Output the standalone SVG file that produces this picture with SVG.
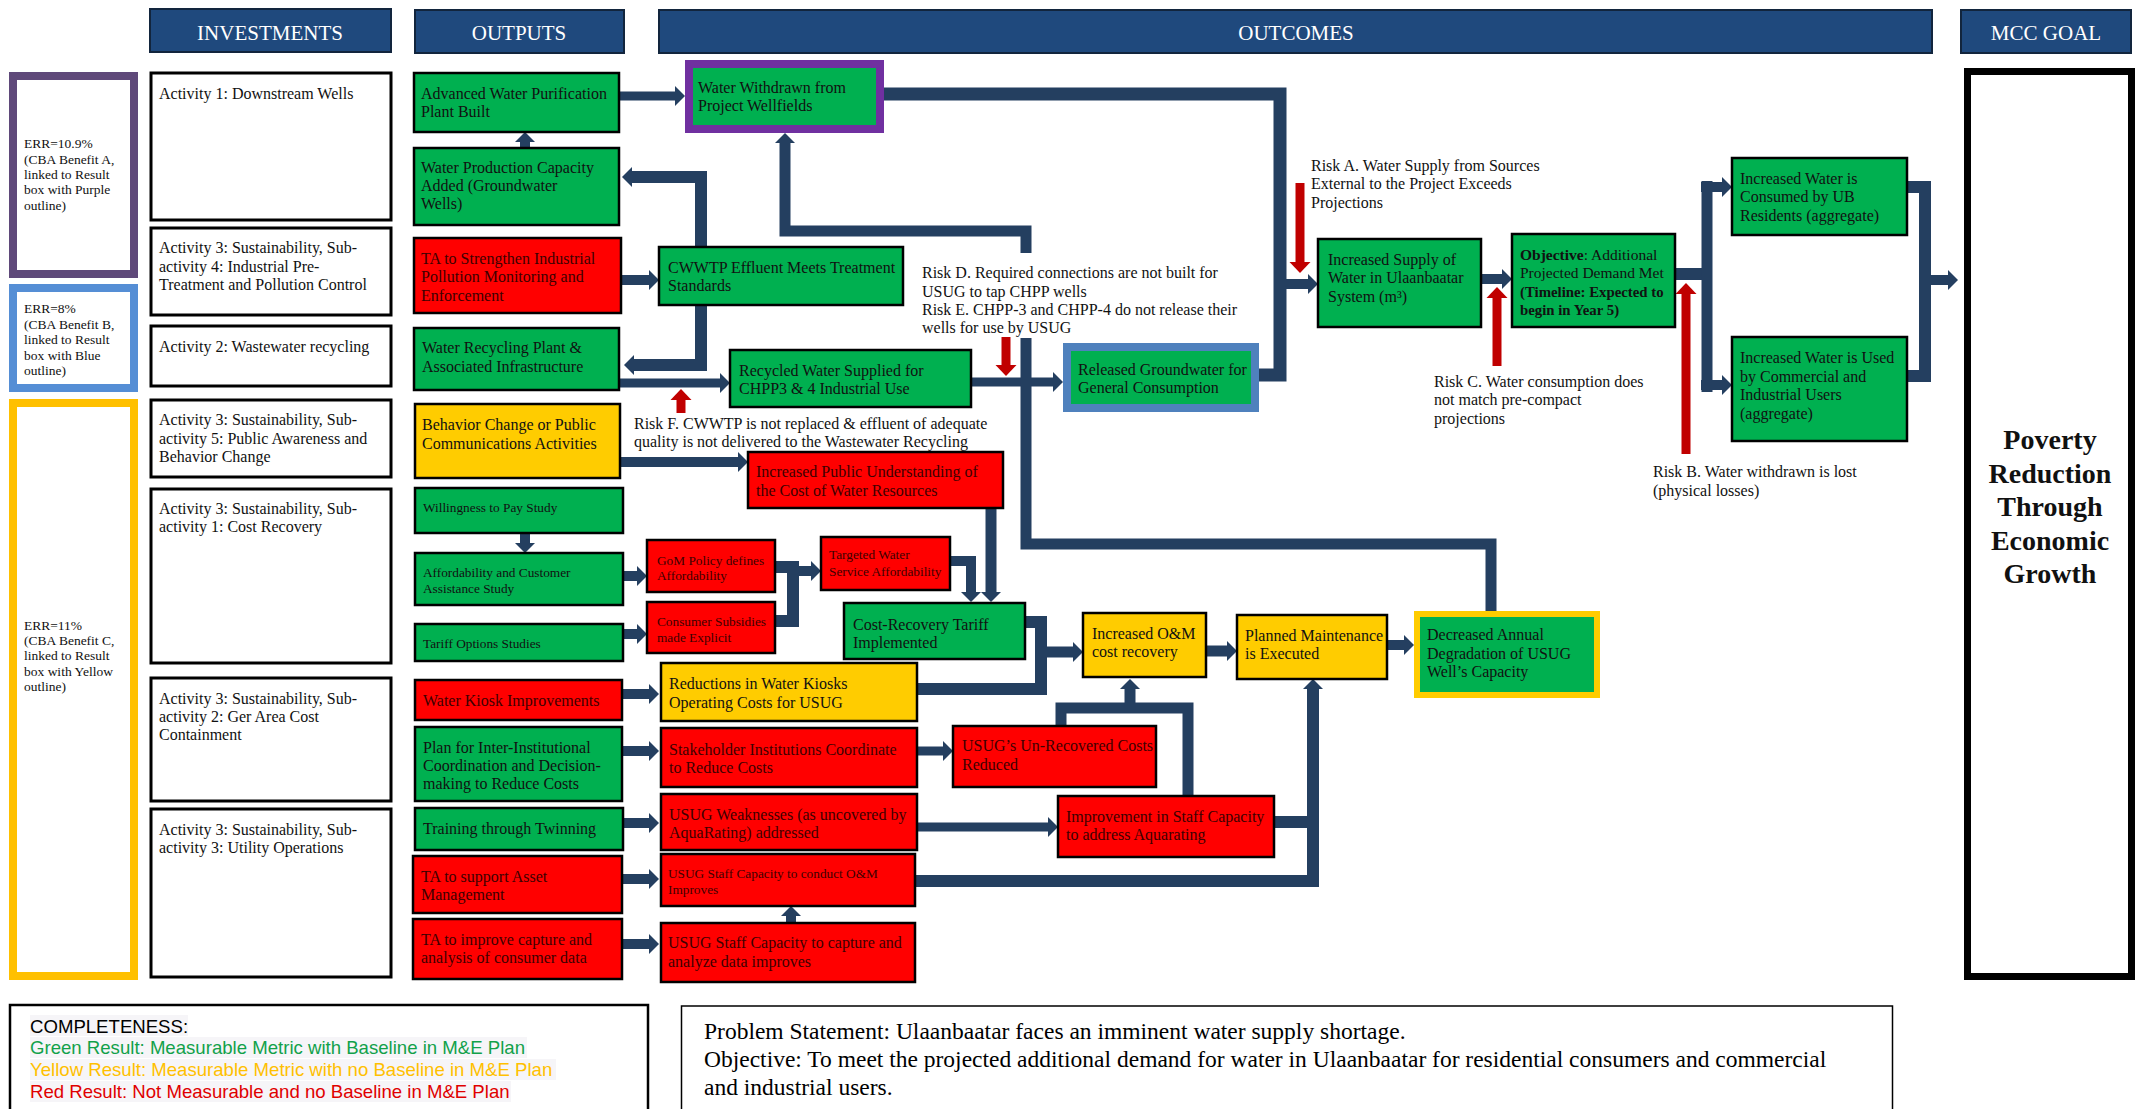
<svg xmlns="http://www.w3.org/2000/svg" width="2149" height="1109" viewBox="0 0 2149 1109">
<style>
text{font-family:"Liberation Serif","Times New Roman",serif;font-size:16px;fill:#111}
.ht{fill:#fff;font-size:21px;text-anchor:middle}
.hdr{fill:#1F497D;stroke:#12253d;stroke-width:2}
.act{fill:#fff;stroke:#000;stroke-width:3}
.g{fill:#00B050;stroke:#000;stroke-width:2.5}
.r{fill:#FF0000;stroke:#000;stroke-width:2.5}
.y{fill:#FFCC00;stroke:#000;stroke-width:2.5}
.tr{fill:#3d0000}
.sm{font-size:13.3px}
.err{font-size:13.5px}
.c{fill:none;stroke:#243F60;stroke-width:11;stroke-linejoin:miter}
.rk{fill:none;stroke:#C00000;stroke-width:9}
.lg{font-family:"Liberation Sans",Arial,sans-serif;font-size:18.6px}
.b{font-weight:bold}
</style>
<defs>
<marker id="a" markerUnits="userSpaceOnUse" markerWidth="10" markerHeight="20" refX="0" refY="10" orient="auto" overflow="visible"><path d="M0,0 L10,10 L0,20 z" fill="#243F60"/></marker>
<marker id="ar" markerUnits="userSpaceOnUse" markerWidth="11" markerHeight="21" refX="0" refY="10.5" orient="auto" overflow="visible"><path d="M0,0 L11,10.5 L0,21 z" fill="#C00000"/></marker>
</defs>
<rect width="2149" height="1109" fill="#fff"/>

<!-- headers -->
<g id="hdr-investments"><rect class="hdr" x="150" y="9" width="241" height="43"/><text class="ht" x="270" y="40">INVESTMENTS</text></g>
<g id="hdr-outputs"><rect class="hdr" x="415" y="10" width="209" height="43"/><text class="ht" x="519" y="40">OUTPUTS</text></g>
<g id="hdr-outcomes"><rect class="hdr" x="659" y="10" width="1273" height="43"/><text class="ht" x="1296" y="40">OUTCOMES</text></g>
<g id="hdr-goal"><rect class="hdr" x="1961" y="10" width="170" height="43"/><text class="ht" x="2046" y="40">MCC GOAL</text></g>

<!-- ERR boxes -->
<g id="err-a"><rect x="13" y="76" width="121" height="198" fill="#fff" stroke="#5F497A" stroke-width="8"/>
<text class="err"><tspan x="24" y="148">ERR=10.9%</tspan><tspan x="24" y="164">(CBA Benefit A,</tspan><tspan x="24" y="179">linked to Result</tspan><tspan x="24" y="194">box with Purple</tspan><tspan x="24" y="210">outline)</tspan></text></g>
<g id="err-b"><rect x="13" y="288" width="121" height="100" fill="#fff" stroke="#558ED5" stroke-width="8"/>
<text class="err"><tspan x="24" y="313">ERR=8%</tspan><tspan x="24" y="328.5">(CBA Benefit B,</tspan><tspan x="24" y="344">linked to Result</tspan><tspan x="24" y="359.5">box with Blue</tspan><tspan x="24" y="375">outline)</tspan></text></g>
<g id="err-c"><rect x="13" y="403" width="121" height="573" fill="#fff" stroke="#FFC000" stroke-width="8"/>
<text class="err"><tspan x="24" y="630">ERR=11%</tspan><tspan x="24" y="645">(CBA Benefit C,</tspan><tspan x="24" y="660">linked to Result</tspan><tspan x="24" y="676">box with Yellow</tspan><tspan x="24" y="691">outline)</tspan></text></g>

<!-- activities -->
<g id="act1"><rect class="act" x="151" y="73" width="240" height="147"/><text x="159" y="99">Activity 1: Downstream Wells</text></g>
<g id="act3-4"><rect class="act" x="151" y="228" width="240" height="87"/><text><tspan x="159" y="253">Activity 3: Sustainability, Sub-</tspan><tspan x="159" y="272">activity 4: Industrial Pre-</tspan><tspan x="159" y="290">Treatment and Pollution Control</tspan></text></g>
<g id="act2"><rect class="act" x="151" y="326" width="240" height="60"/><text x="159" y="352">Activity 2: Wastewater recycling</text></g>
<g id="act3-5"><rect class="act" x="151" y="400" width="240" height="77"/><text><tspan x="159" y="425">Activity 3: Sustainability, Sub-</tspan><tspan x="159" y="444">activity 5: Public Awareness and</tspan><tspan x="159" y="462">Behavior Change</tspan></text></g>
<g id="act3-1"><rect class="act" x="151" y="489" width="240" height="174"/><text><tspan x="159" y="514">Activity 3: Sustainability, Sub-</tspan><tspan x="159" y="532">activity 1: Cost Recovery</tspan></text></g>
<g id="act3-2"><rect class="act" x="151" y="678" width="240" height="123"/><text><tspan x="159" y="704">Activity 3: Sustainability, Sub-</tspan><tspan x="159" y="722">activity 2: Ger Area Cost</tspan><tspan x="159" y="740">Containment</tspan></text></g>
<g id="act3-3"><rect class="act" x="151" y="809" width="240" height="168"/><text><tspan x="159" y="835">Activity 3: Sustainability, Sub-</tspan><tspan x="159" y="853">activity 3: Utility Operations</tspan></text></g>

<!-- connectors -->
<g id="connectors">
<path class="c" style="stroke-width:9" d="M619 96H675" marker-end="url(#a)"/>
<path class="c" style="stroke-width:12" d="M701 247V177H632" marker-end="url(#a)"/>
<path class="c" style="stroke-width:12" d="M701 305V365H634" marker-end="url(#a)"/>
<path class="c" style="stroke-width:10" d="M621 280H649" marker-end="url(#a)"/>
<path class="c" style="stroke-width:9" d="M619 383H720" marker-end="url(#a)"/>
<path class="c" style="stroke-width:9" d="M971 382H1053" marker-end="url(#a)"/>
<path class="c" d="M1491 611V544H1026V338"/>
<path class="c" d="M1026 253V231H785V143" marker-end="url(#a)"/>
<path class="c" style="stroke-width:13" d="M884 94H1280V375H1259"/>
<path class="c" style="stroke-width:10" d="M1280 284H1308" marker-end="url(#a)"/>
<path class="c" style="stroke-width:10" d="M1481 279H1502" marker-end="url(#a)"/>
<path class="c" style="stroke-width:12" d="M1675 274H1707"/>
<path class="c" d="M1707 181V392"/>
<path class="c" style="stroke-width:10" d="M1701 187H1722" marker-end="url(#a)"/>
<path class="c" style="stroke-width:10" d="M1701 385H1722" marker-end="url(#a)"/>
<path class="c" style="stroke-width:12" d="M1907 187H1925V376H1907"/>
<path class="c" style="stroke-width:10" d="M1925 280H1948" marker-end="url(#a)"/>
<path class="c" style="stroke-width:10" d="M620 462H738" marker-end="url(#a)"/>
<path class="c" style="stroke-width:10" d="M623 576H637" marker-end="url(#a)"/>
<path class="c" style="stroke-width:10" d="M623 634H637" marker-end="url(#a)"/>
<path class="c" style="stroke-width:10" d="M525 533V543" marker-end="url(#a)"/>
<path class="c" style="stroke-width:10" d="M525 148V142" marker-end="url(#a)"/>
<path class="c" style="stroke-width:12" d="M775 567H793V621H775"/>
<path class="c" style="stroke-width:10" d="M793 571H811" marker-end="url(#a)"/>
<path class="c" style="stroke-width:10" d="M950 561H971V592" marker-end="url(#a)"/>
<path class="c" d="M991 508V592" marker-end="url(#a)"/>
<path class="c" style="stroke-width:12" d="M1025 622H1041V689H917"/>
<path class="c" d="M1041 652H1073" marker-end="url(#a)"/>
<path class="c" d="M1206 651H1227" marker-end="url(#a)"/>
<path class="c" style="stroke-width:10" d="M1387 645H1404" marker-end="url(#a)"/>
<path class="c" d="M1061 726V708H1188V796"/>
<path class="c" d="M1130 708V689" marker-end="url(#a)"/>
<path class="c" style="stroke-width:12" d="M915 881H1313V689" marker-end="url(#a)"/>
<path class="c" style="stroke-width:12" d="M1274 822H1313"/>
<path class="c" style="stroke-width:9" d="M917 751H943" marker-end="url(#a)"/>
<path class="c" style="stroke-width:9" d="M917 827H1048" marker-end="url(#a)"/>
<path class="c" style="stroke-width:10" d="M791 923V916" marker-end="url(#a)"/>
<path class="c" style="stroke-width:10" d="M622 694H649" marker-end="url(#a)"/>
<path class="c" style="stroke-width:10" d="M622 751H649" marker-end="url(#a)"/>
<path class="c" style="stroke-width:10" d="M623 823H649" marker-end="url(#a)"/>
<path class="c" style="stroke-width:10" d="M622 879H649" marker-end="url(#a)"/>
<path class="c" style="stroke-width:10" d="M622 944H649" marker-end="url(#a)"/>
<!-- risk arrows -->
<path class="rk" d="M1300 183V262" marker-end="url(#ar)"/>
<path class="rk" d="M1006 337V365" marker-end="url(#ar)"/>
<path class="rk" d="M681 413V400" marker-end="url(#ar)"/>
<path class="rk" d="M1497 366V298" marker-end="url(#ar)"/>
<path class="rk" d="M1686 454V294" marker-end="url(#ar)"/>
</g>

<!-- outputs -->
<g id="o-advanced"><rect class="g" x="414" y="73" width="205" height="59"/><text><tspan x="421" y="99">Advanced Water Purification</tspan><tspan x="421" y="117">Plant Built</tspan></text></g>
<g id="o-waterprod"><rect class="g" x="414" y="148" width="205" height="77"/><text><tspan x="421" y="173">Water Production Capacity</tspan><tspan x="421" y="191">Added (Groundwater</tspan><tspan x="421" y="209">Wells)</tspan></text></g>
<g id="o-ta-strengthen"><rect class="r" x="414" y="238" width="207" height="75"/><text class="tr"><tspan x="421" y="264">TA to Strengthen Industrial</tspan><tspan x="421" y="282">Pollution Monitoring and</tspan><tspan x="421" y="301">Enforcement</tspan></text></g>
<g id="o-recycling"><rect class="g" x="414" y="328" width="205" height="62"/><text><tspan x="422" y="353">Water Recycling Plant &amp;</tspan><tspan x="422" y="372">Associated Infrastructure</tspan></text></g>
<g id="o-behavior"><rect class="y" x="415" y="404" width="205" height="74"/><text><tspan x="422" y="430">Behavior Change or Public</tspan><tspan x="422" y="449">Communications Activities</tspan></text></g>
<g id="o-wtp"><rect class="g" x="415" y="488" width="208" height="45"/><text class="sm" x="423" y="512">Willingness to Pay Study</text></g>
<g id="o-afford"><rect class="g" x="415" y="553" width="208" height="52"/><text class="sm"><tspan x="423" y="577">Affordability and Customer</tspan><tspan x="423" y="593">Assistance Study</tspan></text></g>
<g id="o-tariff"><rect class="g" x="415" y="624" width="208" height="37"/><text class="sm" x="423" y="648">Tariff Options Studies</text></g>
<g id="o-kiosk"><rect class="r" x="415" y="680" width="207" height="40"/><text class="tr" x="423" y="706">Water Kiosk Improvements</text></g>
<g id="o-plan"><rect class="g" x="415" y="727" width="207" height="74"/><text><tspan x="423" y="753">Plan for Inter-Institutional</tspan><tspan x="423" y="771">Coordination and Decision-</tspan><tspan x="423" y="789">making to Reduce Costs</tspan></text></g>
<g id="o-training"><rect class="g" x="415" y="808" width="208" height="42"/><text x="423" y="834">Training through Twinning</text></g>
<g id="o-ta-asset"><rect class="r" x="413" y="856" width="209" height="57"/><text class="tr"><tspan x="421" y="882">TA to support Asset</tspan><tspan x="421" y="900">Management</tspan></text></g>
<g id="o-ta-data"><rect class="r" x="413" y="919" width="209" height="60"/><text class="tr"><tspan x="421" y="945">TA to improve capture and</tspan><tspan x="421" y="963">analysis of consumer data</tspan></text></g>

<!-- outcomes -->
<g id="m-withdrawn"><rect x="689" y="64" width="191" height="65" fill="#00B050" stroke="#7030A0" stroke-width="8"/><text><tspan x="698" y="93">Water Withdrawn from</tspan><tspan x="698" y="111">Project Wellfields</tspan></text></g>
<g id="m-cwwtp"><rect class="g" x="659" y="247" width="244" height="58"/><text><tspan x="668" y="273">CWWTP Effluent Meets Treatment</tspan><tspan x="668" y="291">Standards</tspan></text></g>
<g id="m-recycled"><rect class="g" x="730" y="350" width="241" height="57"/><text><tspan x="739" y="376">Recycled Water Supplied for</tspan><tspan x="739" y="394">CHPP3 &amp; 4 Industrial Use</tspan></text></g>
<g id="m-released"><rect x="1067" y="347" width="188" height="61" fill="#00B050" stroke="#4F81BD" stroke-width="8"/><text><tspan x="1078" y="375">Released Groundwater for</tspan><tspan x="1078" y="393">General Consumption</tspan></text></g>
<g id="m-public"><rect class="r" x="748" y="452" width="255" height="56"/><text class="tr"><tspan x="756" y="477">Increased Public Understanding of</tspan><tspan x="756" y="496">the Cost of Water Resources</tspan></text></g>
<g id="m-gom"><rect class="r" x="647" y="540" width="128" height="52"/><text class="tr sm"><tspan x="657" y="565">GoM Policy defines</tspan><tspan x="657" y="580">Affordability</tspan></text></g>
<g id="m-subsidies"><rect class="r" x="647" y="602" width="128" height="51"/><text class="tr sm"><tspan x="657" y="626">Consumer Subsidies</tspan><tspan x="657" y="642">made Explicit</tspan></text></g>
<g id="m-targeted"><rect class="r" x="821" y="537" width="129" height="53"/><text class="tr sm"><tspan x="829" y="559">Targeted Water</tspan><tspan x="829" y="576">Service Affordability</tspan></text></g>
<g id="m-tariff"><rect class="g" x="844" y="603" width="181" height="56"/><text><tspan x="853" y="630">Cost-Recovery Tariff</tspan><tspan x="853" y="648">Implemented</tspan></text></g>
<g id="m-kiosks"><rect class="y" x="661" y="663" width="256" height="58"/><text><tspan x="669" y="689">Reductions in Water Kiosks</tspan><tspan x="669" y="708">Operating Costs for USUG</tspan></text></g>
<g id="m-stakeholder"><rect class="r" x="661" y="728" width="256" height="59"/><text class="tr"><tspan x="669" y="755">Stakeholder Institutions Coordinate</tspan><tspan x="669" y="773">to Reduce Costs</tspan></text></g>
<g id="m-weak"><rect class="r" x="661" y="794" width="256" height="56"/><text class="tr"><tspan x="669" y="820">USUG Weaknesses (as uncovered by</tspan><tspan x="669" y="838">AquaRating) addressed</tspan></text></g>
<g id="m-staff-om"><rect class="r" x="661" y="854" width="254" height="52"/><text class="tr sm"><tspan x="668" y="878">USUG Staff Capacity to conduct O&amp;M</tspan><tspan x="668" y="894">Improves</tspan></text></g>
<g id="m-staff-data"><rect class="r" x="661" y="923" width="254" height="59"/><text class="tr"><tspan x="668" y="948">USUG Staff Capacity to capture and</tspan><tspan x="668" y="967">analyze data improves</tspan></text></g>
<g id="m-unrecovered"><rect class="r" x="953" y="726" width="203" height="61"/><text class="tr"><tspan x="962" y="751">USUG’s Un-Recovered Costs</tspan><tspan x="962" y="770">Reduced</tspan></text></g>
<g id="m-improve"><rect class="r" x="1058" y="796" width="216" height="61"/><text class="tr"><tspan x="1066" y="822">Improvement in Staff Capacity</tspan><tspan x="1066" y="840">to address Aquarating</tspan></text></g>
<g id="m-om"><rect class="y" x="1083" y="613" width="123" height="64"/><text><tspan x="1092" y="639">Increased O&amp;M</tspan><tspan x="1092" y="657">cost recovery</tspan></text></g>
<g id="m-planned"><rect class="y" x="1237" y="615" width="150" height="64"/><text><tspan x="1245" y="641">Planned Maintenance</tspan><tspan x="1245" y="659">is Executed</tspan></text></g>
<g id="m-decreased"><rect x="1417" y="614" width="180" height="81" fill="#00B050" stroke="#FFCC00" stroke-width="6"/><text><tspan x="1427" y="640">Decreased Annual</tspan><tspan x="1427" y="659">Degradation of USUG</tspan><tspan x="1427" y="677">Well’s Capacity</tspan></text></g>
<g id="m-supply"><rect class="g" x="1318" y="239" width="163" height="88"/><text><tspan x="1328" y="265">Increased Supply of</tspan><tspan x="1328" y="283">Water in Ulaanbaatar</tspan><tspan x="1328" y="302">System (m³)</tspan></text></g>
<g id="m-objective"><rect class="g" x="1512" y="234" width="163" height="93"/><text style="font-size:15.5px"><tspan x="1520" y="260"><tspan class="b">Objective</tspan>: Additional</tspan><tspan x="1520" y="278">Projected Demand Met</tspan><tspan x="1520" y="297" class="b" style="font-size:14.8px">(Timeline: Expected to</tspan><tspan x="1520" y="315" class="b" style="font-size:14.8px">begin in Year 5)</tspan></text></g>
<g id="m-consumed"><rect class="g" x="1732" y="158" width="175" height="77"/><text><tspan x="1740" y="184">Increased Water is</tspan><tspan x="1740" y="202">Consumed by UB</tspan><tspan x="1740" y="221">Residents (aggregate)</tspan></text></g>
<g id="m-used"><rect class="g" x="1732" y="337" width="175" height="104"/><text><tspan x="1740" y="363">Increased Water is Used</tspan><tspan x="1740" y="382">by Commercial and</tspan><tspan x="1740" y="400">Industrial Users</tspan><tspan x="1740" y="419">(aggregate)</tspan></text></g>
<g id="goal"><rect x="1967.5" y="71.5" width="164" height="905" fill="#fff" stroke="#000" stroke-width="7"/><text class="b" style="font-size:28px" text-anchor="middle"><tspan x="2050" y="449">Poverty</tspan><tspan x="2050" y="482.5">Reduction</tspan><tspan x="2050" y="516">Through</tspan><tspan x="2050" y="549.5">Economic</tspan><tspan x="2050" y="583">Growth</tspan></text></g>

<!-- risks -->
<g id="risk-a"><text><tspan x="1311" y="171">Risk A. Water Supply from Sources</tspan><tspan x="1311" y="189">External to the Project Exceeds</tspan><tspan x="1311" y="208">Projections</tspan></text></g>
<g id="risk-de"><text><tspan x="922" y="278">Risk D. Required connections are not built for</tspan><tspan x="922" y="297">USUG to tap CHPP wells</tspan><tspan x="922" y="315">Risk E. CHPP-3 and CHPP-4 do not release their</tspan><tspan x="922" y="333">wells for use by USUG</tspan></text></g>
<g id="risk-f"><text><tspan x="634" y="429">Risk F. CWWTP is not replaced &amp; effluent of adequate</tspan><tspan x="634" y="447">quality is not delivered to the Wastewater Recycling</tspan></text></g>
<g id="risk-c"><text><tspan x="1434" y="387">Risk C. Water consumption does</tspan><tspan x="1434" y="405">not match pre-compact</tspan><tspan x="1434" y="424">projections</tspan></text></g>
<g id="risk-b"><text><tspan x="1653" y="477">Risk B. Water withdrawn is lost</tspan><tspan x="1653" y="496">(physical losses)</tspan></text></g>

<!-- legend -->
<g id="legend"><rect x="10" y="1005" width="638" height="110" fill="#fff" stroke="#000" stroke-width="2.5"/>
<rect x="30" y="1015" width="158" height="21" fill="#F6F5F8"/>
<rect x="30" y="1037" width="497" height="21" fill="#F6F5F8"/>
<rect x="30" y="1059" width="526" height="21" fill="#F6F5F8"/>
<rect x="30" y="1081" width="481" height="21" fill="#F6F5F8"/>
<text class="lg" x="30" y="1033" style="fill:#000">COMPLETENESS:</text>
<text class="lg" x="30" y="1054" style="fill:#12A14A">Green Result: Measurable Metric with Baseline in M&amp;E Plan</text>
<text class="lg" x="30" y="1076" style="fill:#FFC000">Yellow Result: Measurable Metric with no Baseline in M&amp;E Plan</text>
<text class="lg" x="30" y="1098" style="fill:#E00000">Red Result: Not Measurable and no Baseline in M&amp;E Plan</text></g>
<g id="problem"><rect x="681.5" y="1006" width="1211" height="110" fill="#fff" stroke="#000" stroke-width="1.5"/>
<text style="font-size:23.5px;fill:#000"><tspan x="704" y="1039">Problem Statement: Ulaanbaatar faces an imminent water supply shortage.</tspan><tspan x="704" y="1067">Objective: To meet the projected additional demand for water in Ulaanbaatar for residential consumers and commercial</tspan><tspan x="704" y="1095">and industrial users.</tspan></text></g>
</svg>
